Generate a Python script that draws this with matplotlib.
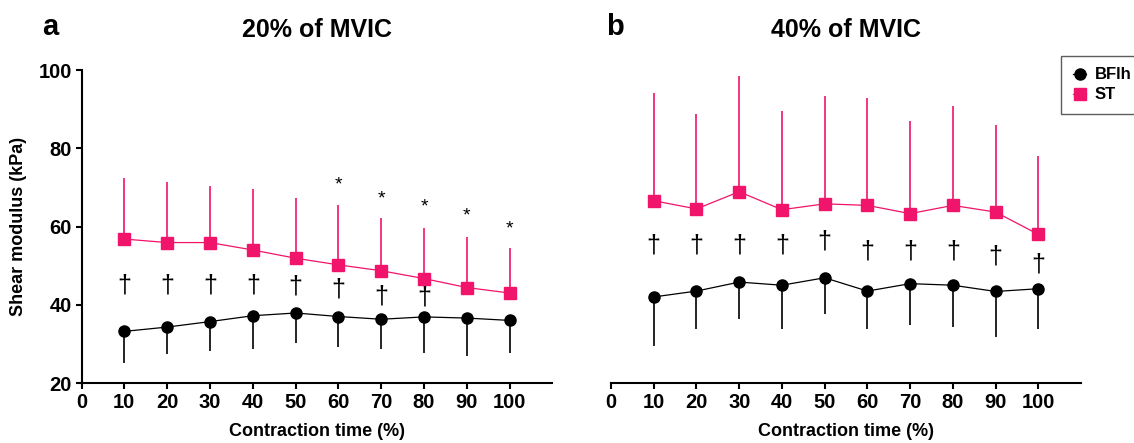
import matplotlib
matplotlib.use("Agg")
import matplotlib.pyplot as plt
from matplotlib.lines import Line2D

plt.rcParams['font.family'] = ['Liberation Sans', 'DejaVu Sans']

time = [10, 20, 30, 40, 50, 60, 70, 80, 90, 100]
xticks = [0, 10, 20, 30, 40, 50, 60, 70, 80, 90, 100]
yticks = [20, 40, 60, 80, 100]

# 20% MVIC
st20_mean = [56.8, 55.9, 55.9, 54.0, 51.9, 50.2, 48.7, 46.7, 44.4, 43.0]
st20_sd = [15.5, 15.4, 14.5, 15.5, 15.5, 15.3, 13.4, 12.9, 12.9, 11.5]
bf20_mean = [33.2, 34.3, 35.7, 37.2, 37.9, 37.0, 36.3, 36.9, 36.6, 36.0]
bf20_sd = [8.1, 6.9, 7.6, 8.4, 7.7, 7.9, 7.6, 9.2, 9.8, 8.3]
dag20_x = [10, 20, 30, 40, 50, 60, 70, 80]
dag20_y = [45.0, 45.0, 45.0, 45.0, 44.6, 43.8, 42.2, 41.8]
ast20_x = [60, 70, 80, 90, 100]
ast20_y = [70.6, 67.0, 65.0, 62.6, 59.4]

# 40% MVIC
st40_mean = [66.6, 64.5, 68.9, 64.3, 65.8, 65.4, 63.3, 65.4, 63.7, 58.0]
st40_sd = [27.6, 24.3, 29.6, 25.2, 27.6, 27.4, 23.7, 25.4, 22.3, 20.0]
bf40_mean = [42.0, 43.5, 45.8, 45.0, 46.9, 43.5, 45.4, 45.0, 43.4, 44.1]
bf40_sd = [12.6, 9.7, 9.5, 11.2, 9.2, 9.7, 10.6, 10.8, 11.7, 10.3]
dag40_x = [10, 20, 30, 40, 50, 60, 70, 80, 90, 100]
dag40_y = [55.1, 55.1, 55.1, 55.1, 56.2, 53.6, 53.6, 53.6, 52.3, 50.2]

PINK = '#F0146A'
BLACK = '#000000'

fig = plt.figure(figsize=(11.34, 4.43), dpi=100)
axL = fig.add_axes([0.0719, 0.1354, 0.4153, 0.7065])
axR = fig.add_axes([0.5388, 0.1354, 0.4145, 0.7065])


def draw(ax, st_m, st_sd, bf_m, bf_sd):
    ax.errorbar(time, st_m, yerr=[[0] * len(st_sd), st_sd], color=PINK, ecolor=PINK,
                elinewidth=1.2, capsize=0, lw=0.9, marker='s', ms=8.5, zorder=3)
    ax.errorbar(time, bf_m, yerr=[bf_sd, [0] * len(bf_sd)], color=BLACK, ecolor=BLACK,
                elinewidth=1.2, capsize=0, lw=0.9, marker='o', ms=8, zorder=4)
    ax.set_xlim(0, 110)
    ax.set_ylim(20, 100)
    ax.set_xticks(xticks)
    ax.set_xticklabels([str(t) for t in xticks], fontsize=14.5, fontweight='bold')
    ax.spines['top'].set_visible(False)
    ax.spines['right'].set_visible(False)
    ax.spines['bottom'].set_linewidth(1.5)
    ax.spines['left'].set_linewidth(1.5)
    ax.tick_params(axis='both', direction='out', length=4, width=1.5, pad=3)
    ax.set_xlabel('Contraction time (%)', fontsize=13, fontweight='bold', labelpad=8)


draw(axL, st20_mean, st20_sd, bf20_mean, bf20_sd)
axL.set_yticks(yticks)
axL.set_yticklabels([str(t) for t in yticks], fontsize=14.5, fontweight='bold')
axL.set_ylabel('Shear modulus (kPa)', fontsize=13, fontweight='bold', labelpad=8)
for x, y in zip(dag20_x, dag20_y):
    axL.text(x, y, '†', ha='center', va='center', fontsize=18)
for x, y in zip(ast20_x, ast20_y):
    axL.text(x, y, '*', ha='center', va='center', fontsize=14)
axL.set_title('20% of MVIC', fontsize=18, fontweight='bold', pad=24)

draw(axR, st40_mean, st40_sd, bf40_mean, bf40_sd)
axR.spines['left'].set_visible(False)
axR.set_yticks([])
for x, y in zip(dag40_x, dag40_y):
    axR.text(x, y, '†', ha='center', va='center', fontsize=18)
axR.set_title('40% of MVIC', fontsize=18, fontweight='bold', pad=24)

fig.text(0.044, 0.94, 'a', fontsize=21, fontweight='bold', ha='center', va='center')
fig.text(0.542, 0.94, 'b', fontsize=21, fontweight='bold', ha='center', va='center')

handles = [Line2D([0], [0], color=BLACK, marker='o', ms=8, lw=0.9),
           Line2D([0], [0], color=PINK, marker='s', ms=8, lw=0.9)]
leg = fig.legend(handles, ['BFlh', 'ST'], loc='upper left', bbox_to_anchor=(0.936, 0.874),
                 borderaxespad=0, frameon=True, fancybox=False, edgecolor='#333333',
                 handlelength=0.8, handletextpad=0.5, borderpad=0.7, labelspacing=0.3,
                 prop={'weight': 'bold', 'size': 12})
leg.get_frame().set_linewidth(1.0)

fig.savefig('out.png', dpi=100)
